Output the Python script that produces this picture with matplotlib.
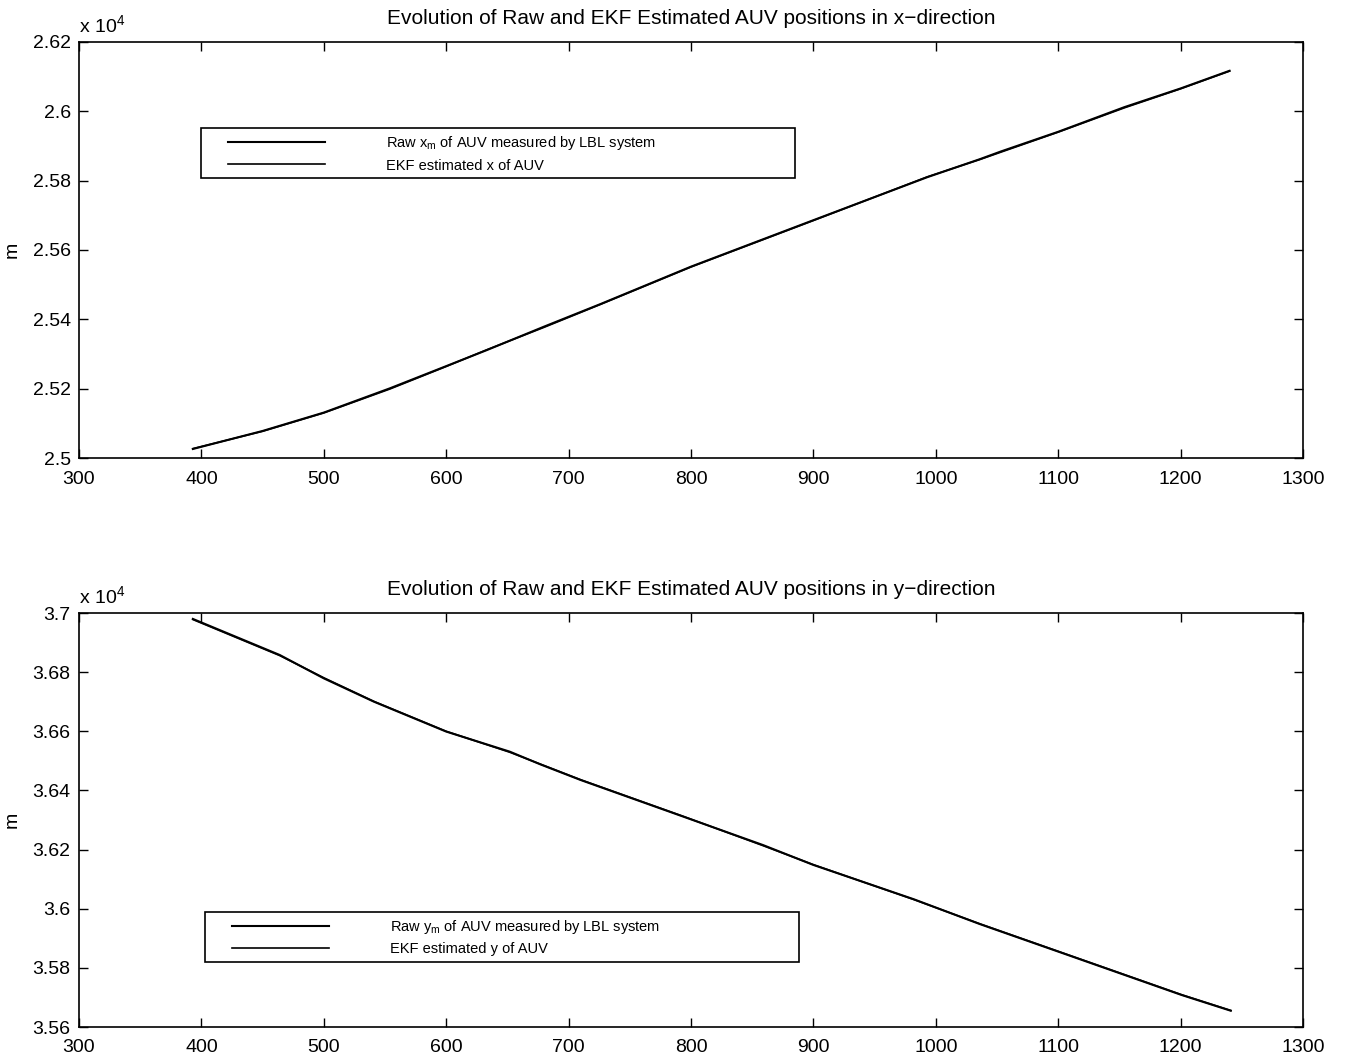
import matplotlib
matplotlib.use("Agg")
import matplotlib.pyplot as plt
from matplotlib.ticker import FuncFormatter, FixedLocator
from matplotlib.lines import Line2D
from matplotlib.legend_handler import HandlerLine2D
from matplotlib.transforms import offset_copy

plt.rcParams['font.family'] = ['Liberation Sans', 'DejaVu Sans']
plt.rcParams['mathtext.fontset'] = 'custom'
plt.rcParams['mathtext.rm'] = 'Liberation Sans'
plt.rcParams['mathtext.it'] = 'Liberation Sans'
plt.rcParams['mathtext.bf'] = 'Liberation Sans:bold'

# ---------------- data ----------------
t_x = [393, 450, 500, 554, 600, 633, 680, 726, 800, 900, 993, 1036, 1053, 1100, 1154, 1200, 1240]
raw_x = [25026, 25078, 25131, 25201, 25265, 25311, 25379, 25444, 25552, 25686, 25810, 25862, 25884, 25941, 26012, 26066, 26117]
ekf_x = [25027, 25077, 25130, 25199, 25264, 25312, 25377, 25443, 25551, 25685, 25811, 25861, 25882, 25940, 26010, 26065, 26116]

t_y = [393, 464, 500, 541, 600, 652, 677, 710, 794, 859, 900, 982, 1036, 1100, 1201, 1241]
raw_y = [36980, 36858, 36779, 36700, 36599, 36531, 36488, 36435, 36311, 36215, 36148, 36032, 35948, 35855, 35708, 35655]
ekf_y = [36978, 36856, 36781, 36701, 36600, 36529, 36489, 36436, 36312, 36213, 36149, 36031, 35949, 35856, 35709, 35656]

xticks = [300, 400, 500, 600, 700, 800, 900, 1000, 1100, 1200, 1300]
yticks_top = [25000, 25200, 25400, 25600, 25800, 26000, 26200]
yticks_bot = [35600, 35800, 36000, 36200, 36400, 36600, 36800, 37000]

title_top = "Evolution of Raw and EKF Estimated AUV positions in x\u2212direction"
title_bot = "Evolution of Raw and EKF Estimated AUV positions in y\u2212direction"
labels_top = [r"Raw x$_\mathrm{m}$ of AUV measured by LBL system", "EKF estimated x of AUV"]
labels_bot = [r"Raw y$_\mathrm{m}$ of AUV measured by LBL system", "EKF estimated y of AUV"]

# ---------------- figure ----------------
W, H = 1345, 1060
fig = plt.figure(figsize=(W / 100, H / 100), dpi=100)
fig.patch.set_facecolor('white')

def px_axes(l, r, t, b):
    return [l / W, (H - b) / H, (r - l) / W, (b - t) / H]

ax1 = fig.add_axes(px_axes(79, 1303, 42, 458))
ax2 = fig.add_axes(px_axes(79, 1303, 613, 1027))

fmt = FuncFormatter(lambda v, p: "%g" % round(v / 1e4, 4))

def style(ax, yticks, ylim, title):
    ax.set_xlim(300, 1300)
    ax.set_ylim(*ylim)
    ax.xaxis.set_major_locator(FixedLocator(xticks))
    ax.yaxis.set_major_locator(FixedLocator(yticks))
    ax.yaxis.set_major_formatter(fmt)
    ax.tick_params(direction='in', top=True, right=True, length=6.5, width=1.0,
                   labelsize=14, colors='black')
    ax.tick_params(axis='x', pad=9)
    ax.tick_params(axis='y', pad=6)
    for s in ax.spines.values():
        s.set_linewidth(1.2)
        s.set_color('black')
    ax.set_title(title, fontsize=15, pad=13)
    ax.set_ylabel('m', fontsize=14)
    ax.yaxis.set_label_coords(-0.048, 0.5)
    tr = offset_copy(ax.transAxes, fig=fig, x=0, y=7, units='points')
    ax.text(0.0, 1.0, r"x 10$^{4}$", transform=tr, fontsize=14,
            ha='left', va='baseline')

def add_legend(ax, bbox):
    hm = {Line2D: HandlerLine2D(xpad=1.45)}
    leg = ax.legend(loc='upper left', bbox_to_anchor=bbox, mode='expand',
                    borderaxespad=0, fontsize=10.5, handlelength=8.1,
                    handletextpad=4.2, borderpad=0.4, labelspacing=0.45,
                    fancybox=False, framealpha=1, handler_map=hm)
    leg.get_frame().set_edgecolor('black')
    leg.get_frame().set_linewidth(1.2)

ax1.plot(t_x, raw_x, color='black', lw=1.5, label=labels_top[0])
ax1.plot(t_x, ekf_x, color='black', lw=1.2, label=labels_top[1])
style(ax1, yticks_top, (25000, 26200), title_top)
add_legend(ax1, (0.0997, 0.668, 0.485, 0.125))

ax2.plot(t_y, raw_y, color='black', lw=1.5, label=labels_bot[0])
ax2.plot(t_y, ekf_y, color='black', lw=1.2, label=labels_bot[1])
style(ax2, yticks_bot, (35600, 37000), title_bot)
add_legend(ax2, (0.103, 0.1498, 0.485, 0.128))

fig.savefig('out.png', dpi=100, facecolor='white')
